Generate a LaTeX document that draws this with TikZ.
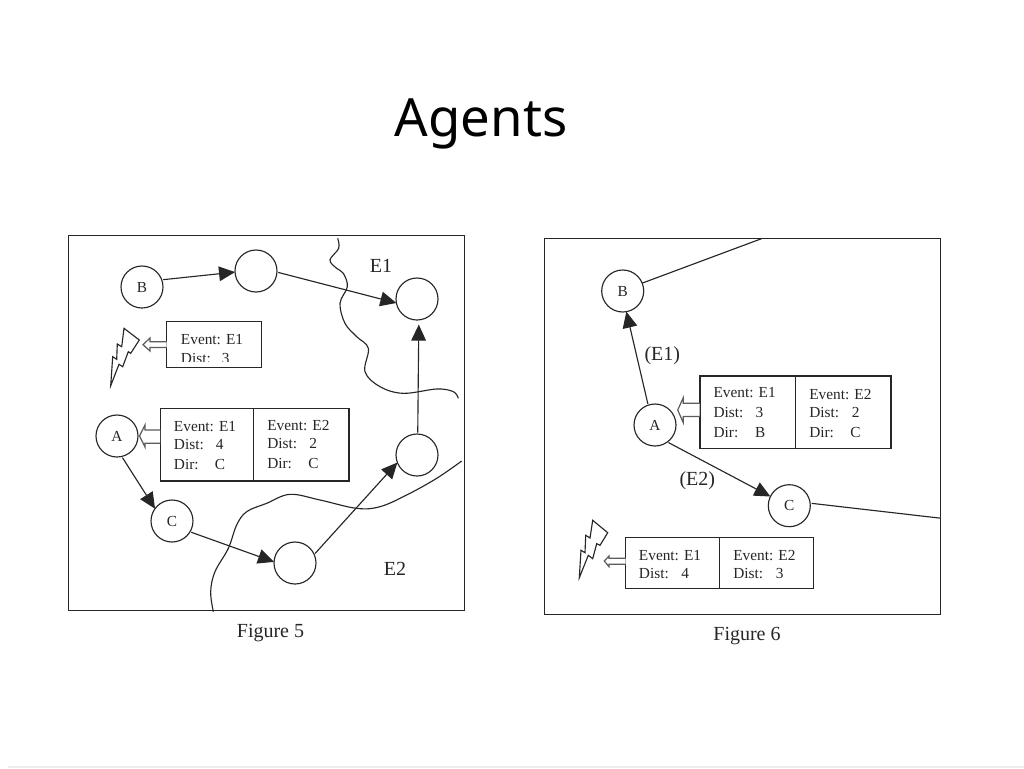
\documentclass[tikz,border=0pt]{standalone}
\usepackage{fontspec}
\setmainfont{Liberation Serif}
\newfontfamily\titlefont{Noto Sans}
\usetikzlibrary{arrows.meta}
\definecolor{ink}{HTML}{262626}
\tikzset{
  frame/.style={draw=ink,line width=0.85pt,fill=white},
  agent/.style={circle,draw=ink,line width=0.85pt,minimum size=31.5pt,inner sep=0pt,outer sep=0pt,font=\fontsize{11.5pt}{12pt}\selectfont,text=ink},
  link/.style={draw=ink,line width=0.85pt,shorten <=1pt,-{Triangle[length=12pt,width=11pt]}},
  plain link/.style={draw=ink,line width=0.85pt},
  tbox/.style={draw=ink,line width=0.85pt,fill=white},
  row/.style={anchor=base west,inner sep=0pt,font=\fontsize{11.5pt}{12pt}\selectfont,text=ink},
  big/.style={inner sep=0pt,font=\fontsize{15pt}{16pt}\selectfont,text=ink},
  hollow/.style={draw=ink!75,line width=0.9pt,fill=white,line join=miter},
  bolt/.style={draw=ink,line width=0.85pt,fill=white,line join=miter},
  edge line/.style={draw=ink,line width=0.85pt}
}
\newcommand{\rowlab}[2]{\hbox to 0.75\dimexpr #1pt\relax{#2\hss}}
\begin{document}
\begin{tikzpicture}[x=0.75pt,y=-0.75pt]
\useasboundingbox (0,0) rectangle (1024,768);
\fill[white] (0,0) rectangle (1024,768);
\draw[black!7,line width=0.8pt] (8,767) -- (1024,767);

\node[inner sep=0pt,anchor=base,font=\titlefont\fontsize{39.5pt}{42pt}\selectfont] (title) at (481,136) {Agents};

%% ---------- Figure 5 ----------
\draw[frame] (68.3,235.3) rectangle (464.3,610.7);

% region boundaries
\begin{scope}[shift={(60,225)},x=0.25pt,y=-0.25pt]
\draw[edge line] plot[smooth,tension=0.6] coordinates {(833,40)(836,70)(810,105)(830,130)(850,145)(862,185)(840,235)(855,295)(890,335)(925,370)(915,440)(960,485)(1030,505)(1130,492)(1180,500)(1195,520)};
\draw[edge line] plot[smooth,tension=0.6] coordinates {(1205,708)(1130,760)(1040,810)(960,845)(890,850)(780,825)(690,808)(620,835)(560,860)(530,900)(505,970)(465,1040)(452,1100)(460,1160)};
\end{scope}

\node[agent] (b5) at (142,287) {B};
\node[agent] (m5) at (256,271) {};
\node[agent] (g5) at (417,299) {};
\node[agent] (r5) at (417,455) {};
\node[agent] (s5) at (295,563) {};
\node[agent] (c5) at (172,521) {C};
\node[agent] (a5) at (117,436) {A};

\draw[link] (b5.20) -- (m5.183);
\draw[link] (m5.-3) -- (g5.191);
\draw[link] (a5.-77) -- (c5.144);
\draw[link] (c5.-31) -- (s5.177);
\draw[link] (s5.24) -- (r5.201);
\draw[link,shorten >=3.5pt] (r5.88) -- (g5.-85);

\node[big] (e15) at (381,266) {E1};
\node[big] (e25) at (395,569) {E2};
\node[big] (cap5) at (270.5,633) {Figure 5};

% lightning and note
\draw[bolt] (124,328.3) -- (139.3,340) -- (130.7,353.3) -- (128.3,351.7) -- (122.7,366.7) -- (119,364.3) -- (110.7,385.7) -- (112.7,356.7) -- (116.7,359.3) -- (117.3,344) -- (121.7,346.7) -- cycle;
\draw[tbox] (166.7,321.7) rectangle (261.3,367.7);
\node[row] (n1a) at (180.7,344) {Event: E1};
\begin{scope}
\clip (167,345) rectangle (261,361.6);
\node[row] (n1b) at (180.7,363) {\rowlab{41}{Dist:}3};
\end{scope}
\draw[hollow] (166.5,341.7) -- (150,341.7) -- (150,338) -- (143,344.7) -- (150,351) -- (150,347.5) -- (166.5,347.5);

\draw[tbox] (160.3,408.3) rectangle (349,481);
\draw[tbox] (253.3,408.3) -- (253.3,481);
\node[row] (a1) at (173.7,431) {Event: E1};
\node[row] (a2) at (173.7,449.5) {\rowlab{42}{Dist:}4};
\node[row] (a3) at (173.7,469) {\rowlab{41}{Dir:}C};
\node[row] (a4) at (267,430) {Event: E2};
\node[row] (a5t) at (267,448.5) {\rowlab{42}{Dist:}2};
\node[row] (a6) at (267,468) {\rowlab{41}{Dir:}C};
\draw[hollow] (160,430) -- (145,430) -- (145,425) -- (139.5,436) -- (145,447) -- (145,443.3) -- (160,443.3);

%% ---------- Figure 6 ----------
\draw[frame] (544.3,238.3) rectangle (940.7,614.3);

\node[agent] (b6) at (622.7,291) {B};
\node[agent] (a6c) at (655,425) {A};
\node[agent] (c6) at (789.3,505.7) {C};
\coordinate (top6) at (761.7,238.6);
\coordinate (right6) at (940.7,518.2);

\draw[plain link] (b6.22) -- (top6);
\draw[plain link] (c6.7) ++(1.5,0.2) -- (right6);
\draw[link] (a6c.109) -- (b6.-80);
\draw[link] (a6c.-54) -- (c6.154);

\node[big] (l1) at (662.3,356) {(E1)};
\node[big] (l2) at (697.3,480.5) {(E2)};
\node[big] (cap6) at (747,636.5) {Figure 6};

\draw[tbox] (700,376) rectangle (891,448.7);
\draw[tbox] (795.3,376) -- (795.3,448.7);
\node[row] (p1) at (713.3,397.7) {Event: E1};
\node[row] (p2) at (713.3,417.3) {\rowlab{42}{Dist:}3};
\node[row] (p3) at (713.3,437) {\rowlab{41.5}{Dir:}B};
\node[row] (p4) at (809,399) {Event: E2};
\node[row] (p5) at (809,417.3) {\rowlab{42.5}{Dist:}2};
\node[row] (p6) at (809,437) {\rowlab{41}{Dir:}C};
\draw[hollow] (699.5,403.3) -- (683.3,403.3) -- (683.3,397.7) -- (677.7,410) -- (683.3,422.7) -- (683.3,416.5) -- (699.5,416.5);

\draw[bolt] (592.7,520.3) -- (607.7,532.7) -- (600,545.3) -- (596.7,543.7) -- (592.7,558.7) -- (588.3,555.3) -- (579.3,577.7) -- (581,550.3) -- (585,552.7) -- (585.7,535.3) -- (590,538) -- cycle;
\draw[tbox] (625.7,537.7) rectangle (813.3,588.7);
\draw[tbox] (719.3,537.7) -- (719.3,588.7);
\node[row] (q1) at (638.7,560.7) {Event: E1};
\node[row] (q2) at (638.7,578.7) {\rowlab{42.3}{Dist:}4};
\node[row] (q3) at (733,560.7) {Event: E2};
\node[row] (q4) at (733,578.7) {\rowlab{42.7}{Dist:}3};
\draw[hollow] (625.5,558.3) -- (609,558.3) -- (609,556) -- (604.3,561) -- (609,566.7) -- (609,564.3) -- (625.5,564.3);
\end{tikzpicture}
\end{document}
